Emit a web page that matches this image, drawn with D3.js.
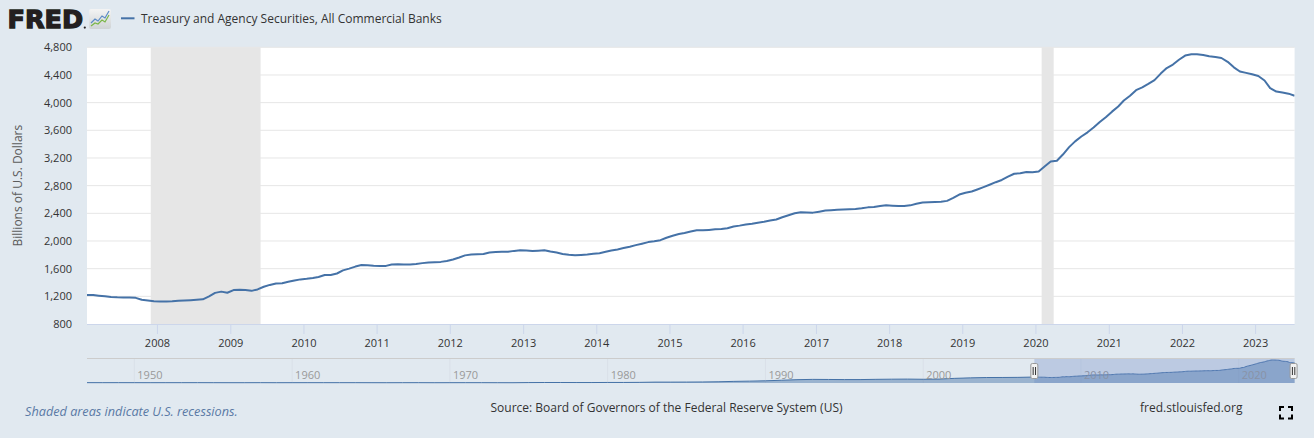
<!DOCTYPE html>
<html>
<head>
<meta charset="utf-8">
<script src="https://cdn.jsdelivr.net/npm/d3@7"></script>
<style>
    body{margin:0;background:#fff;font-family:"Open Sans",sans-serif}
</style>
</head>
<body>
<script>
//series values, billions of dollars, one per month from Jan 2007
var seriesName = "Treasury and Agency Securities, All Commercial Banks"
var values = [
    1219,1218,1210,1200,1190,1185,1183,1182,1178,1150,1140,1130, //2007
    1127,1127,1129,1135,1140,1145,1150,1157,1200,1250,1268,1252, //2008
    1290,1294,1290,1279,1300,1339,1365,1385,1390,1410,1430,1445, //2009
    1453,1465,1480,1508,1508,1530,1575,1600,1630,1652,1650,1643, //2010
    1640,1640,1660,1665,1660,1660,1668,1680,1690,1694,1698,1712, //2011
    1733,1762,1792,1803,1807,1812,1834,1841,1845,1845,1857,1866, //2012
    1862,1855,1860,1867,1847,1834,1812,1800,1793,1799,1806,1815, //2013
    1824,1843,1862,1878,1898,1918,1940,1961,1984,1996,2012,2047, //2014
    2076,2100,2115,2137,2154,2154,2160,2168,2172,2185,2210,2222, //2015
    2238,2249,2265,2279,2295,2310,2343,2373,2400,2414,2412,2410, //2016
    2424,2440,2446,2451,2455,2459,2463,2473,2486,2490,2505,2515, //2017
    2510,2506,2506,2515,2537,2556,2561,2565,2567,2580,2624,2672, //2018
    2698,2716,2745,2779,2813,2850,2882,2930,2972,2980,2997,2995, //2019
    3005,3080,3148,3160,3250,3357,3440,3510,3571,3640,3720,3790, //2020
    3870,3945,4030,4100,4180,4220,4270,4325,4420,4500,4550,4620, //2021
    4680,4700,4700,4688,4670,4660,4645,4590,4510,4450,4430,4410, //2022
    4385,4320,4210,4160,4145,4130,4100                           //2023
]
var yTicks = [800,1200,1600,2000,2400,2800,3200,3600,4000,4400,4800]
var xTickYears = [2008,2009,2010,2011,2012,2013,2014,2015,2016,2017,2018,2019,2020,2021,2022,2023]
var recessions = [["2007-12-01","2009-06-01"],["2020-02-01","2020-04-01"]]

//navigator: yearly values 1947-2006, then the monthly series above
var navYears = [1947,1948,1949,1950,1951,1952,1953,1954,1955,1956,1957,1958,1959,1960,
    1961,1962,1963,1964,1965,1966,1967,1968,1969,1970,1971,1972,1973,1974,1975,1976,
    1977,1978,1979,1980,1981,1982,1983,1984,1985,1986,1987,1988,1989,1990,1991,1992,
    1993,1994,1995,1996,1997,1998,1999,2000,2001,2002,2003,2004,2005,2006]
var navValues = [70,64,68,65,63,64,64,70,62,59,59,67,60,61,
    66,66,64,64,60,57,63,64,55,62,65,67,60,55,85,100,
    100,95,95,110,111,130,180,180,190,210,250,330,380,450,560,680,
    740,720,700,700,750,780,800,760,800,950,1050,1120,1130,1150]
var navLabels = [1950,1960,1970,1980,1990,2000,2010,2020]

var W=1314,H=442
var plotL=87,plotR=1294.6,plotT=47.3,plotB=324
var navTop=358.5,navBottom=383

var svg=d3.select("body").append("svg").attr("width",W).attr("height",H)
svg.append("rect").attr("width",W).attr("height",438).attr("fill","#e1e9f0")

var dates=values.map(function(v,i){return new Date(2007,i,17)})
var data=values.map(function(v,i){return {date:dates[i],value:v}})

var x=d3.scaleTime().domain(d3.extent(dates)).range([plotL,plotR])
var y=d3.scaleLinear().domain([800,4800]).range([plotB,plotT])

//header
svg.append("text").attr("x",7.5).attr("y",28.3)
    .style("font-family","'DejaVu Sans'").style("font-weight","900")
    .style("font-size","25.5px").style("letter-spacing","0px")
    .attr("fill","#231f20").attr("stroke","#231f20").attr("stroke-width",1.3)
    .text("FRED")
svg.append("circle").attr("cx",84.8).attr("cy",27.6).attr("r",1.1).attr("fill","#231f20")
var grad=svg.append("defs").append("linearGradient").attr("id","ico").attr("x1",0).attr("y1",0).attr("x2",0).attr("y2",1)
grad.append("stop").attr("offset","0").attr("stop-color","#f4f4f4")
grad.append("stop").attr("offset","1").attr("stop-color","#cfd3d6")
svg.append("rect").attr("x",89).attr("y",9).attr("width",22).attr("height",20).attr("rx",2).attr("fill","url(#ico)")
svg.append("polyline").attr("points","91,23 95,19 98,21 102,16 105,18 109,11")
    .attr("fill","none").attr("stroke","#5b8bc6").attr("stroke-width",1.2)
svg.append("polyline").attr("points","91,26 95,23 98,24 102,20 105,22 109,15")
    .attr("fill","none").attr("stroke","#7ab648").attr("stroke-width",1.2)
svg.append("line").attr("x1",121).attr("x2",134.5).attr("y1",18.3).attr("y2",18.3)
    .attr("stroke","#4572a7").attr("stroke-width",2)
svg.append("text").attr("x",141).attr("y",22.5).style("font-size","12px").attr("fill","#333")
    .text(seriesName)

//plot area
svg.append("rect").attr("x",plotL).attr("y",plotT).attr("width",plotR-plotL).attr("height",plotB-plotT).attr("fill","#fff")
svg.selectAll(".rec").data(recessions).enter().append("rect")
    .attr("x",function(d){return x(new Date(d[0]))})
    .attr("width",function(d){return x(new Date(d[1]))-x(new Date(d[0]))})
    .attr("y",plotT).attr("height",plotB-plotT).attr("fill","#e6e6e6")
svg.selectAll(".grid").data(yTicks.slice(1)).enter().append("line")
    .attr("x1",plotL).attr("x2",plotR)
    .attr("y1",function(d){return y(d)}).attr("y2",function(d){return y(d)})
    .attr("stroke","#e6e6e6").attr("stroke-width",1)

var yAxis=svg.append("g").attr("transform","translate("+plotL+",0)")
    .call(d3.axisLeft(y).tickValues(yTicks).tickSize(0).tickPadding(15).tickFormat(d3.format(",")))
yAxis.select(".domain").remove()
yAxis.selectAll("text").style("font-family","Open Sans").style("font-size","11px").attr("fill","#333")

var xAxis=svg.append("g").attr("transform","translate(0,"+plotB+")")
    .call(d3.axisBottom(x).tickValues(xTickYears.map(function(d){return new Date(d,0,1)}))
        .tickSize(10).tickPadding(5).tickFormat(d3.timeFormat("%Y")))
xAxis.select(".domain").attr("stroke","#ccd6eb").attr("d","M"+plotL+",0.5H"+plotR)
xAxis.selectAll(".tick line").attr("stroke","#ccd6eb")
xAxis.selectAll("text").style("font-family","Open Sans").style("font-size","11px").attr("fill","#333")

svg.append("text").attr("transform","translate(22,"+((plotT+plotB)/2)+") rotate(-90)")
    .attr("text-anchor","middle").style("font-size","12px").attr("fill","#5c5c5c")
    .text("Billions of U.S. Dollars")

svg.append("clipPath").attr("id","plotclip").append("rect")
    .attr("x",plotL).attr("y",plotT-2).attr("width",plotR-plotL).attr("height",plotB-plotT+4)
svg.append("path").datum(data).attr("clip-path","url(#plotclip)")
    .attr("d",d3.line().x(function(d){return x(d.date)}).y(function(d){return y(d.value)}))
    .attr("fill","none").attr("stroke","#4572a7").attr("stroke-width",2)
    .attr("stroke-linejoin","round")

//navigator
var navData=navYears.map(function(yr,i){return {date:new Date(yr,0,1),value:navValues[i]}}).concat(data)
var nx=d3.scaleTime().domain([navData[0].date,dates[dates.length-1]]).range([plotL,plotR])
var ny=d3.scaleLinear().domain([0,d3.max(navData,function(d){return d.value})]).range([navBottom,navTop+1.5])

svg.selectAll(".navgrid").data(navLabels).enter().append("line")
    .attr("x1",function(d){return nx(new Date(d,0,1))}).attr("x2",function(d){return nx(new Date(d,0,1))})
    .attr("y1",navTop).attr("y2",navBottom).attr("stroke","#d9e0e8").attr("stroke-width",1)
svg.append("path").datum(navData)
    .attr("d",d3.area().x(function(d){return nx(d.date)}).y0(navBottom).y1(function(d){return ny(d.value)}))
    .attr("fill","#4572a7").attr("fill-opacity",0.45)
svg.append("path").datum(navData)
    .attr("d",d3.line().x(function(d){return nx(d.date)}).y(function(d){return ny(d.value)}))
    .attr("fill","none").attr("stroke","#4572a7").attr("stroke-width",1)
svg.selectAll(".navlab").data(navLabels).enter().append("text")
    .attr("x",function(d){return nx(new Date(d,0,1))+3}).attr("y",379)
    .style("font-size","11px").attr("fill","#999").text(function(d){return d})

var selStart=nx(dates[0]),selEnd=plotR
svg.append("rect").attr("x",selStart).attr("y",navTop).attr("width",selEnd-selStart)
    .attr("height",navBottom-navTop).attr("fill","rgba(102,133,194,0.3)")
svg.append("line").attr("x1",plotL).attr("x2",plotR).attr("y1",navTop).attr("y2",navTop)
    .attr("stroke","#cccccc").attr("stroke-width",1)

svg.selectAll(".handle").data([selStart,selEnd-1]).enter().append("g")
    .attr("transform",function(d){return "translate("+d+",0)"})
    .each(function(){
        var g=d3.select(this)
        g.append("rect").attr("x",-3.5).attr("y",363.5).attr("width",7).attr("height",15).attr("rx",1.5)
            .attr("fill","#f2f2f2").attr("stroke","#999")
        g.append("line").attr("x1",-1.2).attr("x2",-1.2).attr("y1",367).attr("y2",375).attr("stroke","#333")
        g.append("line").attr("x1",1.2).attr("x2",1.2).attr("y1",367).attr("y2",375).attr("stroke","#333")
    })

//footer
svg.append("text").attr("x",25).attr("y",415.5).style("font-size","12.7px").style("font-style","italic")
    .attr("fill","#5a79a5").text("Shaded areas indicate U.S. recessions.")
svg.append("text").attr("x",490.5).attr("y",412).style("font-size","12px").attr("fill","#333")
    .text("Source: Board of Governors of the Federal Reserve System (US)")
svg.append("text").attr("x",1140).attr("y",412).style("font-size","12px").attr("fill","#333")
    .text("fred.stlouisfed.org")

var corners=[[1280,407,1,1],[1292,407,-1,1],[1280,418.5,1,-1],[1292,418.5,-1,-1]]
svg.selectAll(".fs").data(corners).enter().append("path")
    .attr("d",function(c){return "M"+c[0]+","+(c[1]+c[3]*4)+"V"+c[1]+"H"+(c[0]+c[2]*4)})
    .attr("fill","none").attr("stroke","#000").attr("stroke-width",2)
</script>
</body>
</html>
